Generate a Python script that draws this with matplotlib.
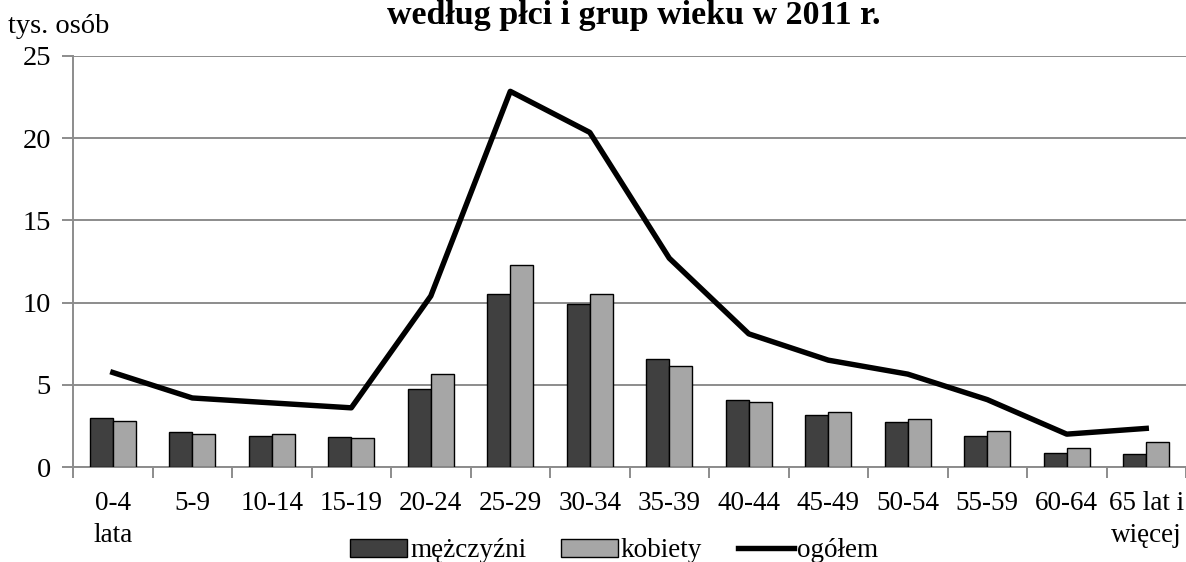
import numpy as np
import matplotlib
matplotlib.use("Agg")
import matplotlib.pyplot as plt
from matplotlib.patches import Patch
from matplotlib.lines import Line2D

plt.rcParams['font.family'] = ['Liberation Serif', 'DejaVu Serif']

# dane (tys. osób)
grupy = ['0-4\nlata', '5-9', '10-14', '15-19', '20-24', '25-29', '30-34',
         '35-39', '40-44', '45-49', '50-54', '55-59', '60-64', '65 lat i\nwięcej']
mezczyzni = [3.0, 2.15, 1.9, 1.85, 4.75, 10.5, 9.9, 6.55, 4.1, 3.15, 2.75, 1.9, 0.85, 0.8]
kobiety = [2.8, 2.0, 2.0, 1.75, 5.65, 12.3, 10.5, 6.15, 3.95, 3.35, 2.9, 2.2, 1.15, 1.5]
ogolem = [5.75, 4.2, 3.9, 3.6, 10.4, 22.85, 20.35, 12.7, 8.1, 6.5, 5.65, 4.1, 2.0, 2.35]

fs = 19.5
grid_col = '#8c8c8c'

fig = plt.figure(figsize=(11.86, 5.62), dpi=100)
ax = fig.add_axes([0.0616, 0.169, 0.9384, 0.7314])

x = np.arange(len(grupy))
w = 0.29
ax.bar(x - w / 2, mezczyzni, w, color='#404040', edgecolor='black', linewidth=1.0, zorder=3)
ax.bar(x + w / 2, kobiety, w, color='#a6a6a6', edgecolor='black', linewidth=1.0, zorder=3)
ax.plot(x, ogolem, color='black', linewidth=3.9, zorder=4)

ax.set_xlim(-0.5, len(grupy) - 0.5)
ax.set_ylim(0, 25)
ax.set_yticks([0, 5, 10, 15, 20, 25])
ax.yaxis.grid(True, color=grid_col, linewidth=1.4, zorder=0)
ax.set_axisbelow(True)

ax.set_xticks(x)
ax.set_xticklabels(grupy, fontsize=fs, linespacing=1.4)
ax.set_xticks(np.arange(len(grupy) + 1) - 0.5, minor=True)
ax.tick_params(axis='x', which='major', length=0, pad=17)
ax.tick_params(axis='x', which='minor', length=8, width=1.4, color=grid_col, direction='out')
ax.tick_params(axis='y', length=8, width=1.4, color=grid_col, labelsize=20.5, pad=8)

for s in ['top', 'right']:
    ax.spines[s].set_visible(False)
for s in ['left', 'bottom']:
    ax.spines[s].set_color(grid_col)
    ax.spines[s].set_linewidth(1.4)

fig.text(0.007, 0.93, 'tys. osób', fontsize=20.5, ha='left', va='bottom')
fig.text(0.5346, 0.957, 'według płci i grup wieku w 2011 r.', fontsize=24.5,
         fontweight='bold', ha='center', va='baseline')

uchwyty = [Patch(facecolor='#404040', edgecolor='black', linewidth=1.0),
           Patch(facecolor='#a6a6a6', edgecolor='black', linewidth=1.0),
           Line2D([0], [0], color='black', linewidth=3.9)]
fig.legend(uchwyty, ['mężczyźni', 'kobiety', 'ogółem'], loc='center',
           bbox_to_anchor=(0.518, 0.02), ncol=3, frameon=False, fontsize=fs,
           handlelength=2.1, handleheight=0.65, handletextpad=0.1,
           columnspacing=1.3, borderpad=0)

fig.savefig('out.png', dpi=100)
